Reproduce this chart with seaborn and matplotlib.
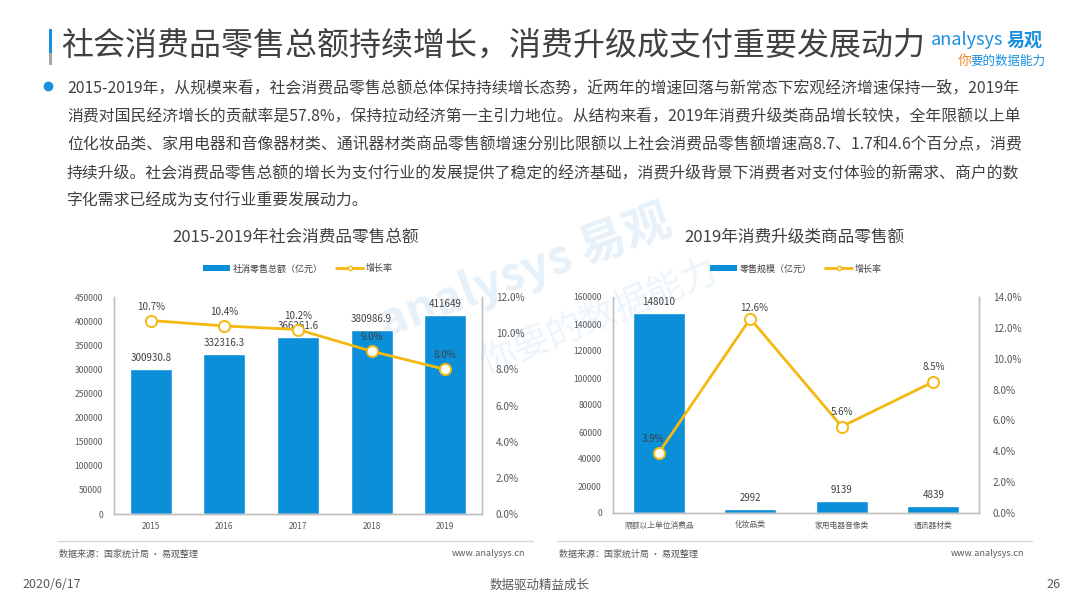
import matplotlib
matplotlib.use('Agg')
import matplotlib.pyplot as plt
from matplotlib.patches import Patch, Rectangle
from matplotlib.lines import Line2D
import seaborn as sns
import numpy as np

# data
years = ['2015', '2016', '2017', '2018', '2019']
retail_total = [300930.8, 332316.3, 366261.6, 380986.9, 411649]
retail_growth = [10.7, 10.4, 10.2, 9.0, 8.0]

upgrade_cats = ['限额以上单位消费品', '化妆品类', '家用电器音像类', '通讯器材类']
upgrade_sales = [148010, 2992, 9139, 4839]
upgrade_growth = [3.9, 12.6, 5.6, 8.5]

title = '社会消费品零售总额持续增长，消费升级成支付重要发展动力'
body_lines = [
    '2015-2019年，从规模来看，社会消费品零售总额总体保持持续增长态势，近两年的增速回落与新常态下宏观经济增速保持一致，2019年',
    '消费对国民经济增长的贡献率是57.8%，保持拉动经济第一主引力地位。从结构来看，2019年消费升级类商品增长较快，全年限额以上单',
    '位化妆品类、家用电器和音像器材类、通讯器材类商品零售额增速分别比限额以上社会消费品零售额增速高8.7、1.7和4.6个百分点，消费',
    '持续升级。社会消费品零售总额的增长为支付行业的发展提供了稳定的经济基础，消费升级背景下消费者对支付体验的新需求、商户的数',
    '字化需求已经成为支付行业重要发展动力。',
]

BLUE = '#0b8fd9'
YELLOW = '#f5b811'
DARK = '#404040'
GREY = '#595959'
SPINE = '#c0c0c0'

sns.set_theme(style='white')
plt.rcParams['font.family'] = ['Noto Sans CJK SC', 'DejaVu Sans']

W, H = 1080, 608
fig = plt.figure(figsize=(W / 100, H / 100), dpi=100)
fig.patch.set_facecolor('white')


def fx(x):
    return x / W


def fy(y):
    return 1 - y / H


def num_label(v):
    return ('%.1f' % v).rstrip('0').rstrip('.')


# faint watermark, kept behind the charts
fig.text(fx(525), fy(272), 'analysys 易观', fontsize=34, color='#e6f1fa',
         rotation=20, ha='center', va='center', fontweight='bold', zorder=-1)
fig.text(fx(600), fy(318), '你要的数据能力', fontsize=26, color='#ecf5fb',
         rotation=22, ha='center', va='center', style='italic', zorder=-1)

# header
fig.add_artist(Rectangle((fx(48.5), fy(53)), 3.5 / W, 24 / H, transform=fig.transFigure,
                         color='#1a8fe0', lw=0))
fig.add_artist(Rectangle((fx(48.5), fy(65)), 3.5 / W, 12 / H, transform=fig.transFigure,
                         color='#a6a6a6', lw=0))
fig.text(fx(61), fy(46), title, fontsize=23, color=DARK, ha='left', va='center')
fig.text(fx(1003), fy(40), 'analysys', fontsize=13, color='#1a8fe0',
         ha='right', va='center')
fig.text(fx(1007), fy(40), '易观', fontsize=13, color='#1a8fe0',
         ha='left', va='center', fontweight='bold')
fig.text(fx(958), fy(61), '你', fontsize=10, color='#f08a24', ha='left', va='center', style='italic')
fig.text(fx(970), fy(61), '要的数据能力', fontsize=9, color='#1a8fe0', ha='left', va='center', style='italic')

fig.add_artist(Line2D([fx(48)], [fy(86)], transform=fig.transFigure, marker='o',
                      markersize=6, color='#1a8fe0', lw=0))
for i, line in enumerate(body_lines):
    fig.text(fx(67), fy(88 + i * 28.2), line, fontsize=11.4, color=DARK, ha='left', va='center')


def style_axes(ax, ax2):
    for a in (ax, ax2):
        a.spines['top'].set_visible(False)
        for side in ['left', 'right', 'bottom']:
            a.spines[side].set_color(SPINE)
            a.spines[side].set_linewidth(1)
        a.tick_params(length=0, colors=GREY)
        a.grid(False)
        a.set_xlabel('')
        a.set_ylabel('')
    ax.patch.set_alpha(0)


def combo_chart(rect, cats, vals, rates, ymax, ystep, rmax, bar_name, chart_title,
                title_x, rate_offsets, xfont):
    ax = fig.add_axes(rect)
    sns.barplot(x=cats, y=vals, color=BLUE, saturation=1, width=0.57, ax=ax, zorder=2)
    ax.set_ylim(0, ymax)
    ticks = np.arange(0, ymax + 1, ystep)
    ax.set_yticks(ticks)
    ax.set_yticklabels([str(int(t)) for t in ticks], fontsize=6.2)
    ax.tick_params(axis='y', pad=8)
    ax.tick_params(axis='x', labelsize=xfont, pad=6)
    ax.set_xlim(-0.5, len(cats) - 0.5)
    for i, v in enumerate(vals):
        ax.annotate(num_label(v), (i, v), xytext=(0, 11), textcoords='offset pixels',
                    ha='center', va='center', fontsize=7, color=DARK, zorder=5)

    ax2 = ax.twinx()
    sns.lineplot(x=np.arange(len(cats)), y=rates, ax=ax2, color=YELLOW, lw=2,
                 marker='o', markersize=8, markerfacecolor='white',
                 markeredgecolor=YELLOW, markeredgewidth=1.4, zorder=4)
    ax2.set_ylim(0, rmax)
    rticks = np.arange(0, rmax + 0.01, 2)
    ax2.set_yticks(rticks)
    ax2.set_yticklabels(['%.1f%%' % t for t in rticks], fontsize=7.2)
    ax2.tick_params(axis='y', pad=10)
    for i, r in enumerate(rates):
        dx, dy = rate_offsets[i]
        ax2.annotate('%.1f%%' % r, (i, r), xytext=(dx, dy), textcoords='offset pixels',
                     ha='center', va='center', fontsize=7, color=DARK, zorder=6)
    style_axes(ax, ax2)

    handles = [Patch(facecolor=BLUE, edgecolor='none'),
               Line2D([0], [0], color=YELLOW, lw=2, marker='o', markersize=3,
                      markerfacecolor='white', markeredgecolor=YELLOW)]
    ax.legend(handles, [bar_name, '增长率'], loc='center', bbox_to_anchor=(0.5, 1.13),
              ncol=2, frameon=False, fontsize=6.5, handlelength=3, handleheight=0.6,
              columnspacing=1.5, handletextpad=0.3, labelcolor=DARK)
    fig.text(fx(title_x), fy(237), chart_title, fontsize=12, color=DARK,
             ha='center', va='center')
    return ax, ax2


combo_chart([fx(114), fy(514), 368 / W, 217 / H], years, retail_total, retail_growth,
            450000, 50000, 12, '社消零售总额（亿元）', '2015-2019年社会消费品零售总额', 296,
            [(0, 14), (0, 14), (0, 14), (0, 14), (0, 14)], 6)

combo_chart([fx(613), fy(513), 366 / W, 216 / H], upgrade_cats, upgrade_sales, upgrade_growth,
            160000, 20000, 14, '零售规模（亿元）', '2019年消费升级类商品零售额', 794,
            [(-6, 14), (4, 11), (0, 15), (0, 15)], 5.6)

# source notes and separators
for x0, x1 in [(57, 533), (557, 1032)]:
    fig.add_artist(Line2D([fx(x0), fx(x1)], [fy(541), fy(541)], transform=fig.transFigure,
                          color='#d9d9d9', lw=1))
    fig.text(fx(x0 + 2), fy(554), '数据来源：国家统计局 · 易观整理', fontsize=6.5, color=GREY,
             ha='left', va='center')
    fig.text(fx(x1 - 8), fy(554), 'www.analysys.cn', fontsize=6.5, color=GREY,
             ha='right', va='center')

# footer
fig.text(fx(22), fy(585), '2020/6/17', fontsize=9, color=GREY, ha='left', va='center')
fig.text(fx(540), fy(585), '数据驱动精益成长', fontsize=9, color=GREY, ha='center', va='center')
fig.text(fx(1060), fy(585), '26', fontsize=9, color=GREY, ha='right', va='center')

fig.savefig('out.png', dpi=100, facecolor='white')
